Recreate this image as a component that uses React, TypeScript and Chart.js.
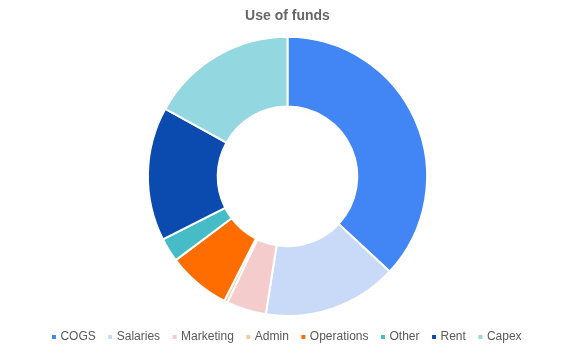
import React, { useEffect, useRef } from "react";
import { Chart, registerables } from "chart.js";

Chart.register(...registerables);

const categories = ["COGS", "Salaries", "Marketing", "Admin", "Operations", "Other", "Rent", "Capex"];
const values = [37, 15.6, 4.6, 0.4, 7.3, 2.8, 15.5, 17];
const colors = ["#4285F4", "#C9DAF8", "#F4CCCC", "#F9CB9C", "#FF6D01", "#46BDC6", "#0B4BB0", "#93D8E0"];
const titleText = "Use of funds";

export default function App() {
  const ref = useRef<HTMLCanvasElement>(null);
  useEffect(() => {
    document.body.style.margin = "0";
    const chart = new Chart(ref.current!, {
      type: "doughnut",
      data: {
        labels: categories,
        datasets: [
          {
            data: values,
            backgroundColor: colors,
            borderColor: "#ffffff",
            borderWidth: 2,
          },
        ],
      },
      options: {
        animation: false,
        responsive: true,
        maintainAspectRatio: false,
        cutout: "50%",
        layout: { padding: 0 },
        plugins: {
          title: {
            display: true,
            text: titleText,
            color: "#666666",
            font: { family: "'Liberation Sans', Arial, sans-serif", size: 14, weight: "bold", lineHeight: 1.2 },
            padding: { top: 8, bottom: 11 },
          },
          legend: {
            position: "bottom",
            labels: {
              usePointStyle: true,
              pointStyle: "rect",
              boxWidth: 1,
              boxHeight: 6,
              padding: 14,
              color: "#595959",
              font: { family: "'Liberation Sans', Arial, sans-serif", size: 12, lineHeight: 1 },
            },
          },
          tooltip: { enabled: false },
        },
      },
    });
    return () => chart.destroy();
  }, []);
  return (
    <div style={{ width: 575, height: 353, position: "relative" }}>
      <canvas ref={ref} />
    </div>
  );
}
